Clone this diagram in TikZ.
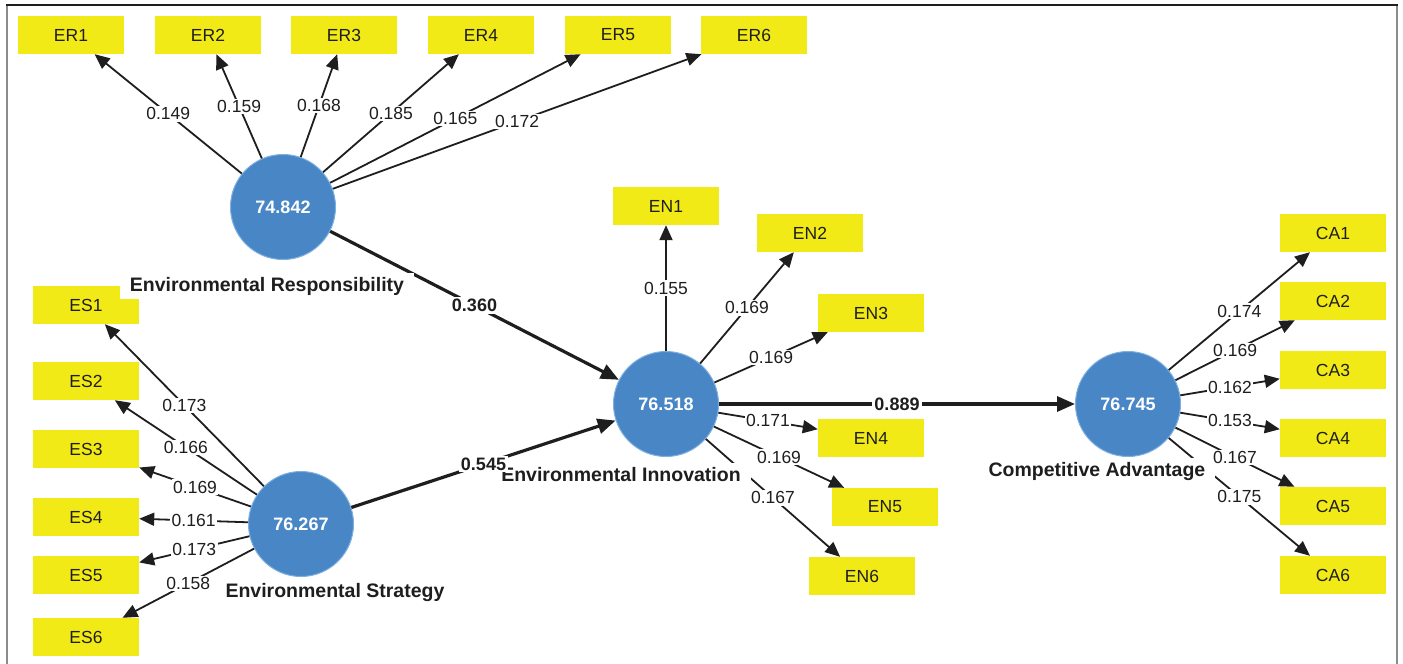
\documentclass[tikz,border=0pt]{standalone}
\usepackage{fontspec}
\setmainfont{Liberation Sans}
\usetikzlibrary{arrows.meta}
\definecolor{boxyellow}{RGB}{242,234,22}
\definecolor{lvblue}{RGB}{72,134,198}
\definecolor{lvedge}{RGB}{125,175,225}
\definecolor{framegray}{RGB}{140,140,140}
\definecolor{ink}{RGB}{30,30,30}
\begin{document}
\begin{tikzpicture}[x=1pt,y=-1pt,
  ind/.style={fill=boxyellow, minimum width=106pt, minimum height=38pt, inner sep=0pt, text=ink, font=\fontsize{17.5}{20}\selectfont},
  lv/.style={circle, fill=lvblue, draw=lvedge, line width=1pt, minimum size=105pt, inner sep=0pt, text=white, font=\bfseries\fontsize{18}{20}\selectfont},
  lvname/.style={fill=white, anchor=base, inner xsep=10pt, inner ysep=4pt, text=ink, font=\bfseries\fontsize{19.5}{22}\selectfont},
  load/.style={line width=1.8pt, draw=ink, -{Triangle[length=15pt,width=13pt]}},
  struct/.style={line width=3.2pt, draw=ink, -{Triangle[length=18pt,width=15pt]}},
  wt/.style={midway, fill=white, inner sep=1.5pt, text=ink, font=\fontsize{17.5}{20}\selectfont},
  bwt/.style={midway, fill=white, inner sep=2pt, text=ink, font=\bfseries\fontsize{18}{20}\selectfont}
]
\useasboundingbox (0,0) rectangle (1403,664);
\fill[white] (0,0) rectangle (1403,664);
% frame
\draw[framegray, line width=2pt] (7,664) -- (7,5);
\draw[framegray, line width=2pt] (1397,5) -- (1397,664);
\draw[ink, line width=2pt] (6,5) -- (1398,5);

% indicators
\node[ind] (ER1) at (71,35) {ER1};
\node[ind] (ER2) at (208,35) {ER2};
\node[ind] (ER3) at (344,35) {ER3};
\node[ind] (ER4) at (481,35) {ER4};
\node[ind] (ER5) at (618,35) {ER5};
\node[ind] (ER6) at (754,35) {ER6};

\node[ind] (ES1) at (86,305) {ES1};
\node[ind] (ES2) at (86,381) {ES2};
\node[ind] (ES3) at (86,449) {ES3};
\node[ind] (ES4) at (86,517) {ES4};
\node[ind] (ES5) at (86,575) {ES5};
\node[ind] (ES6) at (86,637) {ES6};

\node[ind] (EN1) at (666,206) {EN1};
\node[ind] (EN2) at (810,233) {EN2};
\node[ind] (EN3) at (871,313) {EN3};
\node[ind] (EN4) at (871,438) {EN4};
\node[ind] (EN5) at (885,507) {EN5};
\node[ind] (EN6) at (862,576) {EN6};

\node[ind] (CA1) at (1333,233) {CA1};
\node[ind] (CA2) at (1333,301) {CA2};
\node[ind] (CA3) at (1333,370) {CA3};
\node[ind] (CA4) at (1333,438) {CA4};
\node[ind] (CA5) at (1333,506) {CA5};
\node[ind] (CA6) at (1333,575) {CA6};

% latent variables
\node[lv] (ER) at (283,207) {74.842};
\node[lv] (ES) at (301,524) {76.267};
\node[lv] (EN) at (666,404) {76.518};
\node[lv] (CA) at (1128,404) {76.745};

% outer loading lines
\foreach \i in {1,...,6} {
  \draw[load] (ER) -- (ER\i);
  \draw[load] (ES) -- (ES\i);
  \draw[load] (EN) -- (EN\i);
  \draw[load] (CA) -- (CA\i);
}

% structural path lines
\draw[struct] (ER) -- (EN);
\draw[struct] (ES) -- (EN);
\draw[struct] (EN) -- (CA);

% construct names
\node[lvname] (ERn) at (267,291) {Environmental Responsibility};
\node[lvname] (ESn) at (335,597) {Environmental Strategy};
\node[lvname] (ENn) at (621,481) {Environmental Innovation};
\node[lvname] (CAn) at (1097,476) {Competitive Advantage};

% outer loading values
\path (ER) -- (ER1) node[wt] {0.149};
\path (ER) -- (ER2) node[wt] {0.159};
\path (ER) -- (ER3) node[wt] {0.168};
\path (ER) -- (ER4) node[wt] {0.185};
\path (ER) -- (ER5) node[wt] {0.165};
\path (ER) -- (ER6) node[wt] {0.172};

\path (ES) -- (ES1) node[wt] {0.173};
\path (ES) -- (ES2) node[wt] {0.166};
\path (ES) -- (ES3) node[wt] {0.169};
\path (ES) -- (ES4) node[wt] {0.161};
\path (ES) -- (ES5) node[wt] {0.173};
\path (ES) -- (ES6) node[wt] {0.158};

\path (EN) -- (EN1) node[wt] {0.155};
\path (EN) -- (EN2) node[wt] {0.169};
\path (EN) -- (EN3) node[wt] {0.169};
\path (EN) -- (EN4) node[wt] {0.171};
\path (EN) -- (EN5) node[wt] {0.169};
\path (EN) -- (EN6) node[wt] {0.167};

\path (CA) -- (CA1) node[wt] {0.174};
\path (CA) -- (CA2) node[wt] {0.169};
\path (CA) -- (CA3) node[wt] {0.162};
\path (CA) -- (CA4) node[wt] {0.153};
\path (CA) -- (CA5) node[wt] {0.167};
\path (CA) -- (CA6) node[wt] {0.175};

% path coefficients
\path (ER) -- (EN) node[bwt] {0.360};
\path (ES) -- (EN) node[bwt] {0.545};
\path (EN) -- (CA) node[bwt] {0.889};
\end{tikzpicture}
\end{document}
